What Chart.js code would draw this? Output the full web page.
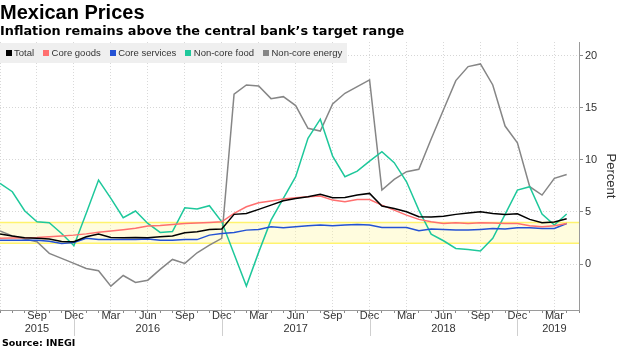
<!DOCTYPE html>
<html lang="en">
<head>
<meta charset="utf-8">
<title>Mexican Prices</title>
<script src="https://cdn.jsdelivr.net/npm/chart.js@4.4.1/dist/chart.umd.min.js"></script>
<style>
  html, body { margin: 0; padding: 0; background: #fff; }
  #contenedor { position: relative; width: 620px; height: 348px; overflow: hidden; }
  #grafica { position: absolute; left: 0; top: 0; }
  #titulo { position: absolute; left: 0; top: 2px; font: bold 20px/20px "Liberation Sans", Arial, sans-serif; color: #000; white-space: nowrap; }
  #subtitulo { position: absolute; left: 0; top: 24px; font: bold 12.85px/13px "DejaVu Sans", sans-serif; color: #000; white-space: nowrap; }
  #leyenda { position: absolute; left: 0; top: 42.5px; height: 20px; width: 347px; background: #efefef; display: flex; align-items: center; padding-left: 5.5px; box-sizing: border-box; font: 9.5px "Liberation Sans", Arial, sans-serif; color: #333; }
  .item { display: flex; align-items: center; margin-right: 9px; white-space: nowrap; }
  .cuadro { width: 6px; height: 6px; margin-right: 2.5px; }
  #fuente { position: absolute; left: 2px; top: 337.5px; font: bold 9.5px/9.5px "DejaVu Sans", sans-serif; color: #000; white-space: nowrap; }
</style>
</head>
<body>
<div id="contenedor">
  <canvas id="grafica" width="620" height="348"></canvas>
  <div id="titulo">Mexican Prices</div>
  <div id="subtitulo">Inflation remains above the central bank’s target range</div>
  <div id="leyenda"></div>
  <div id="fuente">Source: INEGI</div>
</div>
<script>
// Meses del eje (Jun 2015 - May 2019), el último sin dato
const meses = [
  "Jun 2015", "Jul 2015", "Aug 2015", "Sep 2015", "Oct 2015", "Nov 2015", "Dec 2015",
  "Jan 2016", "Feb 2016", "Mar 2016", "Apr 2016", "May 2016", "Jun 2016", "Jul 2016", "Aug 2016", "Sep 2016", "Oct 2016", "Nov 2016", "Dec 2016",
  "Jan 2017", "Feb 2017", "Mar 2017", "Apr 2017", "May 2017", "Jun 2017", "Jul 2017", "Aug 2017", "Sep 2017", "Oct 2017", "Nov 2017", "Dec 2017",
  "Jan 2018", "Feb 2018", "Mar 2018", "Apr 2018", "May 2018", "Jun 2018", "Jul 2018", "Aug 2018", "Sep 2018", "Oct 2018", "Nov 2018", "Dec 2018",
  "Jan 2019", "Feb 2019", "Mar 2019", "Apr 2019", "May 2019"
];

// Series (% anual)
const total = [2.88, 2.69, 2.54, 2.47, 2.40, 2.18, 2.14, 2.62, 2.88, 2.56, 2.53, 2.56, 2.53, 2.62, 2.69, 3.00, 3.10, 3.33, 3.36,
  4.77, 4.86, 5.25, 5.66, 6.08, 6.30, 6.46, 6.69, 6.36, 6.40, 6.62, 6.78,
  5.57, 5.34, 5.02, 4.54, 4.51, 4.60, 4.77, 4.90, 5.02, 4.86, 4.77, 4.83, 4.29, 3.97, 4.03, 4.35];
const coreGoods = [2.47, 2.50, 2.53, 2.56, 2.62, 2.70, 2.78, 2.90, 3.05, 3.17, 3.30, 3.45, 3.65, 3.70, 3.80, 3.90, 3.95, 4.00, 4.06,
  4.86, 5.50, 5.88, 6.05, 6.24, 6.37, 6.46, 6.53, 6.14, 5.98, 6.20, 6.20,
  5.66, 5.18, 4.70, 4.29, 4.06, 3.90, 3.97, 3.90, 3.97, 3.95, 3.90, 3.90, 3.68, 3.58, 3.68, 3.90];
const coreServices = [2.30, 2.30, 2.30, 2.30, 2.20, 1.98, 2.08, 2.47, 2.37, 2.37, 2.37, 2.37, 2.40, 2.30, 2.30, 2.35, 2.35, 2.78, 2.94,
  3.04, 3.26, 3.33, 3.58, 3.49, 3.58, 3.68, 3.74, 3.68, 3.74, 3.80, 3.74,
  3.52, 3.52, 3.52, 3.20, 3.36, 3.33, 3.26, 3.26, 3.33, 3.42, 3.36, 3.49, 3.49, 3.42, 3.42, 3.90];
const nonCoreFood = [7.74, 6.94, 5.12, 4.06, 3.97, 2.94, 1.76, 4.87, 8.06, 6.30, 4.45, 5.09, 3.90, 3.04, 3.13, 5.40, 5.28, 5.60, 4.06,
  0.97, -2.11, 1.15, 4.22, 6.30, 8.38, 12.06, 13.90, 10.36, 8.38, 8.92, 9.88,
  10.78, 9.73, 7.90, 5.18, 2.88, 2.24, 1.50, 1.40, 1.25, 2.47, 4.77, 7.10, 7.42, 4.80, 3.74, 4.80];
const nonCoreEnergy = [3.17, 2.70, 2.40, 2.14, 1.03, 0.55, 0.07, -0.42, -0.64, -2.11, -1.09, -1.76, -1.54, -0.51, 0.45, 0.07, 1.09, 1.82, 2.47,
  16.30, 17.18, 17.08, 15.87, 16.06, 15.20, 13.02, 12.76, 15.36, 16.38, 17.02, 17.66,
  7.10, 8.13, 8.86, 9.09, 12.00, 14.80, 17.60, 18.94, 19.20, 17.18, 13.24, 11.64, 7.42, 6.62, 8.22, 8.60];

const nombresSeries = ["Total", "Core goods", "Core services", "Non-core food", "Non-core energy"];
const coloresSeries = ["#000000", "#ff6f6f", "#2452d4", "#1ec89b", "#868686"];
const valoresSeries = [total, coreGoods, coreServices, nonCoreFood, nonCoreEnergy];

// Eje: meses con etiqueta, años y rango meta de Banxico
const mesesTrimestre = ["Mar", "Jun", "Sep", "Dec"];
const etiquetasAnio = ["Sep 2015", "Jun 2016", "Jun 2017", "Jun 2018", "Mar 2019"];
const ticksY = [0, 5, 10, 15, 20];
const rangoObjetivo = [2, 4];

const fuenteEje = "'Liberation Sans', Arial, sans-serif";

function esTrimestre(i) {
  if (i === undefined || !meses[i]) return false;
  return mesesTrimestre.includes(meses[i].split(" ")[0]);
}

// Leyenda en HTML
const leyendaEl = document.getElementById("leyenda");
nombresSeries.forEach((nombre, i) => {
  const item = document.createElement("span");
  item.className = "item";
  const cuadro = document.createElement("span");
  cuadro.className = "cuadro";
  cuadro.style.background = coloresSeries[i];
  item.appendChild(cuadro);
  item.appendChild(document.createTextNode(nombre));
  leyendaEl.appendChild(item);
});

// Banda amarilla del rango meta
const bandaObjetivo = {
  id: "bandaObjetivo",
  beforeDatasetsDraw(chart) {
    const { ctx, chartArea, scales } = chart;
    const yArriba = scales.y.getPixelForValue(rangoObjetivo[1]);
    const yAbajo = scales.y.getPixelForValue(rangoObjetivo[0]);
    ctx.save();
    ctx.fillStyle = "rgba(255, 246, 160, 0.35)";
    ctx.fillRect(chartArea.left, yArriba, chartArea.width, yAbajo - yArriba);
    ctx.strokeStyle = "#fff36e";
    ctx.lineWidth = 1.5;
    ctx.beginPath();
    ctx.moveTo(chartArea.left, yArriba);
    ctx.lineTo(chartArea.right, yArriba);
    ctx.moveTo(chartArea.left, yAbajo);
    ctx.lineTo(chartArea.right, yAbajo);
    ctx.stroke();
    ctx.restore();
  }
};

// Separadores de año bajo el eje x
const separadoresAnio = {
  id: "separadoresAnio",
  afterDraw(chart) {
    const { ctx, scales } = chart;
    const escalaX = scales.x;
    ctx.save();
    ctx.strokeStyle = "#cfcfcf";
    ctx.lineWidth = 1;
    meses.forEach((m, i) => {
      if (!m.startsWith("Dec")) return;
      const x = Math.round(escalaX.getPixelForValue(i)) + 0.5;
      ctx.beginPath();
      ctx.moveTo(x, escalaX.top + 5);
      ctx.lineTo(x, escalaX.top + 26);
      ctx.stroke();
    });
    ctx.restore();
  }
};

const ctx = document.getElementById("grafica").getContext("2d");
new Chart(ctx, {
  type: "line",
  data: {
    labels: meses,
    datasets: nombresSeries.map((nombre, i) => ({
      label: nombre,
      data: valoresSeries[i],
      borderColor: coloresSeries[i],
      backgroundColor: coloresSeries[i],
      borderWidth: 1.5,
      pointRadius: 0,
      tension: 0,
      fill: false
    }))
  },
  options: {
    responsive: false,
    animation: false,
    devicePixelRatio: 1,
    layout: { padding: { top: 42, left: 0, right: 0, bottom: 0 } },
    plugins: {
      legend: { display: false },
      tooltip: { enabled: false }
    },
    scales: {
      x: {
        afterFit: (escala) => { escala.height = 38; },
        grid: {
          color: (c) => esTrimestre(c.index) ? "#d9d9d9" : "rgba(0,0,0,0)",
          tickColor: "#8a8a8a",
          tickLength: 3
        },
        border: { color: "#9a9a9a", dash: [1, 2] },
        ticks: {
          autoSkip: false,
          maxRotation: 0,
          padding: -3,
          color: "#333",
          font: { family: fuenteEje, size: 11, lineHeight: "12.5px" },
          callback: function (valor, indice) {
            // la primera etiqueta queda cortada en el borde, se omite
            if (indice === 0 || !esTrimestre(indice)) return "";
            const etiqueta = meses[indice];
            const mes = etiqueta.split(" ")[0];
            if (etiquetasAnio.includes(etiqueta)) return [mes, etiqueta.split(" ")[1]];
            return mes;
          }
        }
      },
      y: {
        position: "right",
        min: -4.4,
        max: 21.3,
        afterBuildTicks: (escala) => { escala.ticks = ticksY.map(v => ({ value: v })); },
        afterFit: (escala) => { escala.width = 41; },
        grid: { color: "#d6d6d6", tickColor: "#8a8a8a", tickLength: 4 },
        border: { color: "#9a9a9a", dash: [1, 2] },
        ticks: {
          padding: 2,
          color: "#333",
          font: { family: fuenteEje, size: 11 }
        },
        title: {
          display: true,
          text: "Percent",
          color: "#333",
          font: { family: fuenteEje, size: 13 },
          padding: { top: 2, bottom: 0 }
        }
      }
    }
  },
  plugins: [bandaObjetivo, separadoresAnio]
});
</script>
</body>
</html>
